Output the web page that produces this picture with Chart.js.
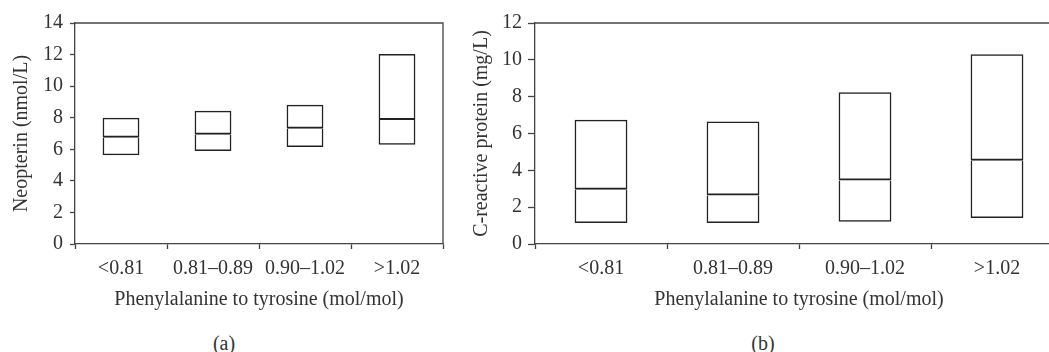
<!DOCTYPE html>
<html>
<head>
<meta charset="utf-8">
<script src="https://cdn.jsdelivr.net/npm/chart.js@4/dist/chart.umd.min.js"></script>
<style>
    html, body { margin: 0; padding: 0; background: #fff; overflow: hidden; width: 1049px; height: 352px; }
    .panel { position: absolute; top: 0; }
    .tag { position: absolute; top: 331px; font: 20px/24px "Liberation Serif", serif; color: #333; transform: translateX(-50%); }
</style>
</head>
<body>
<div class="panel" style="left:0"><canvas id="neopterin-chart" width="450" height="320"></canvas></div>
<div class="panel" style="left:450px"><canvas id="crp-chart" width="620" height="320"></canvas></div>
<div class="tag" style="left:224px">(a)</div>
<div class="tag" style="left:763px">(b)</div>
<script>
const categories = ["<0.81", "0.81–0.89", "0.90–1.02", ">1.02"];

// neopterin (nmol/L): box bottom, median, top
const neo_low = [5.62, 5.89, 6.14, 6.29];
const neo_med = [6.73, 6.92, 7.30, 7.85];
const neo_high = [8.0, 8.44, 8.82, 12.03];

// C-reactive protein (mg/L)
const crp_low = [1.14, 1.14, 1.21, 1.41];
const crp_med = [2.95, 2.64, 3.45, 4.52];
const crp_high = [6.74, 6.65, 8.24, 10.3];

const text_color = "#333";
const line_color = "#444";
const font_family = "'Liberation Serif', serif";
const font_size = 20;

// top and right edge of the plot box
const frame_plugin = {
    id: "frame",
    afterDraw(chart) {
        const {ctx, chartArea} = chart;
        ctx.save();
        ctx.strokeStyle = line_color;
        ctx.lineWidth = 1.3;
        ctx.beginPath();
        ctx.moveTo(chartArea.left, chartArea.top);
        ctx.lineTo(chartArea.right, chartArea.top);
        ctx.lineTo(chartArea.right, chartArea.bottom);
        ctx.stroke();
        ctx.restore();
    }
};

function box_datasets(low, med, high) {
    const style = {
        backgroundColor: "rgba(0,0,0,0)",
        borderColor: "#222",
        borderSkipped: false,
        inflateAmount: 0,
        barPercentage: 0.4,
        categoryPercentage: 1,
        grouped: false
    };
    return [
        // lower half, no top edge: the median comes from the upper half
        Object.assign({data: low.map((v, i) => [v, med[i]]),
            borderWidth: {top: 0, left: 1.5, right: 1.5, bottom: 1.5}}, style),
        Object.assign({data: med.map((v, i) => [v, high[i]]),
            borderWidth: {top: 1.5, left: 1.5, right: 1.5, bottom: 2}}, style)
    ];
}

function make_chart(el_id, o) {
    const el = document.getElementById(el_id);
    if (el === null) {
        throw Error("failed finding #" + el_id);
    }
    return new Chart(el, {
        type: "bar",
        data: {
            labels: categories,
            datasets: box_datasets(o.low, o.med, o.high)
        },
        plugins: [frame_plugin],
        options: {
            responsive: false,
            animation: false,
            layout: {padding: {top: 23, right: 7, left: 0, bottom: 0}},
            plugins: {legend: {display: false}, tooltip: {enabled: false}},
            scales: {
                x: {
                    offset: true,
                    grid: {offset: true, drawOnChartArea: false, tickLength: 5, color: line_color, tickWidth: 1.3},
                    border: {color: line_color, width: 1.3},
                    ticks: {color: text_color, padding: 8, font: {family: font_family, size: font_size}, maxRotation: 0},
                    title: {display: true, text: "Phenylalanine to tyrosine (mol/mol)", color: text_color,
                        font: {family: font_family, size: font_size}, padding: {top: 0, bottom: 8}},
                    afterFit: (s) => { s.height = 320 - 244; }
                },
                y: {
                    min: 0,
                    max: o.max,
                    grid: {drawOnChartArea: false, tickLength: o.tick_len, color: line_color, tickWidth: 1.3},
                    border: {color: line_color, width: 1.3},
                    ticks: {
                        stepSize: o.step,
                        padding: o.tick_pad,
                        color: text_color,
                        font: {family: font_family, size: font_size},
                        callback: (v) => (v % 2 === 0 ? v : "")
                    },
                    title: {display: true, text: o.y_title, color: text_color,
                        font: {family: font_family, size: font_size}, padding: {top: o.title_pad, bottom: 0}},
                    afterFit: (s) => { s.width = o.y_width; }
                }
            }
        }
    });
}

make_chart("neopterin-chart", {
    low: neo_low, med: neo_med, high: neo_high,
    max: 14, step: 1, tick_len: 5, tick_pad: 7,
    y_title: "Neopterin (nmol/L)", title_pad: 10, y_width: 75
});

make_chart("crp-chart", {
    low: crp_low, med: crp_med, high: crp_high,
    max: 12, step: 2, tick_len: 7, tick_pad: 6,
    y_title: "C-reactive protein (mg/L)", title_pad: 20, y_width: 85
});
</script>
</body>
</html>
